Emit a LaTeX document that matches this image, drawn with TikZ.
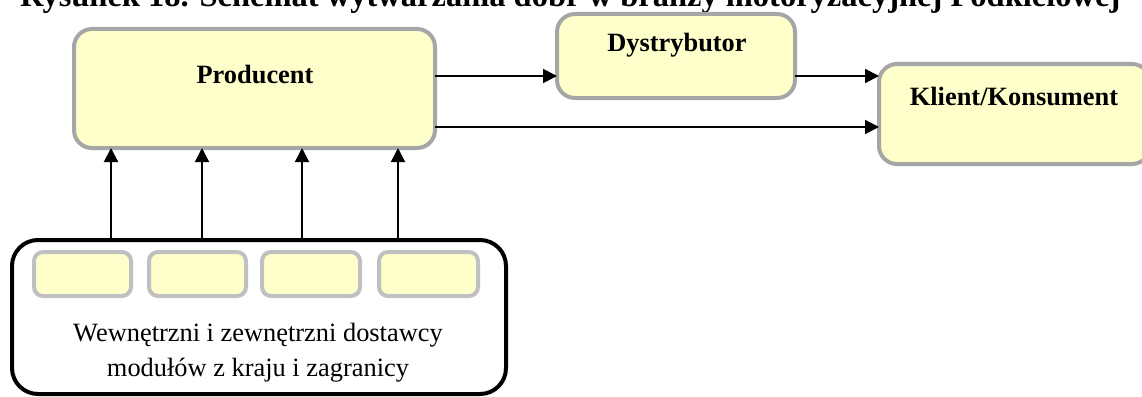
\documentclass[tikz,border=0pt]{standalone}
\usepackage{fontspec}
\setmainfont{Liberation Serif}
\usetikzlibrary{arrows.meta}
\definecolor{paleyellow}{HTML}{FFFFCC}
\definecolor{framegray}{HTML}{A6A6A6}
\definecolor{slotgray}{HTML}{C0C0C0}
\begin{document}
\begin{tikzpicture}[x=1pt,y=-1pt,
  bigbox/.style={draw=framegray, fill=paleyellow, line width=4pt,
    rounded corners=18pt, inner sep=0pt, outer sep=0pt},
  slot/.style={draw=slotgray, fill=paleyellow, line width=4pt,
    rounded corners=9pt, inner sep=0pt, outer sep=0pt,
    minimum height=44pt},
  group/.style={draw=black, line width=4pt, rounded corners=26pt,
    inner sep=0pt, outer sep=0pt},
  lbl/.style={font=\fontsize{26.4pt}{35pt}\selectfont\bfseries, inner sep=0pt},
  txt/.style={font=\fontsize{26.4pt}{35pt}\selectfont, inner sep=0pt, align=center},
  arr/.style={line width=2pt, -{Triangle[length=14pt,width=14pt]}},
]
\clip (0,0) rectangle (1142,396);
\useasboundingbox (0,0) rectangle (1142,396);

% caption strip at the top edge
\node[font=\fontsize{32.5pt}{34pt}\selectfont\bfseries, inner sep=0pt,
  anchor=base west] (caption) at (20,6.5)
  {Rysunek 18. Schemat wytwarzania dóbr w branży motoryzacyjnej Podkielowej};

% main chain
\node[bigbox, minimum width=361pt, minimum height=119pt] (prod) at (254.5,88.5) {};
\node[lbl] (prodtxt) at (255,75) {Producent};
\node[bigbox, minimum width=238pt, minimum height=84pt] (dyst) at (676,56) {};
\node[lbl] (dysttxt) at (677,45) {Dystrybutor};
\node[bigbox, minimum width=271pt, minimum height=100pt] (kons) at (1014.5,114) {};
\node[lbl] (konstxt) at (1014,97) {Klient/Konsument};

% suppliers group
\node[group, minimum width=494pt, minimum height=154pt] (sup) at (259,317) {};
\node[slot, minimum width=97pt] (s1) at (82.5,274) {};
\node[slot, minimum width=97pt] (s2) at (197.5,274) {};
\node[slot, minimum width=98pt] (s3) at (311,274) {};
\node[slot, minimum width=99pt] (s4) at (428.5,274) {};
\node[txt] (suptxt) at (258,352.5)
  {Wewnętrzni i zewnętrzni dostawcy\\modułów z kraju i zagranicy};

% horizontal flows
\coordinate (upper) at (0,76);
\coordinate (lower) at (0,127);
\draw[arr] (prod.east |- upper) -- (dyst.west |- upper);
\draw[arr] (dyst.east |- upper) -- (kons.west |- upper);
\draw[arr] (prod.east |- lower) -- (kons.west |- lower);

% supplies into the producer
\foreach \k/\x in {1/111,2/202,3/302,4/398}{
  \coordinate (in\k) at (\x,0);
  \draw[arr] (in\k |- sup.north) -- (in\k |- prod.south);
}
\end{tikzpicture}
\end{document}
